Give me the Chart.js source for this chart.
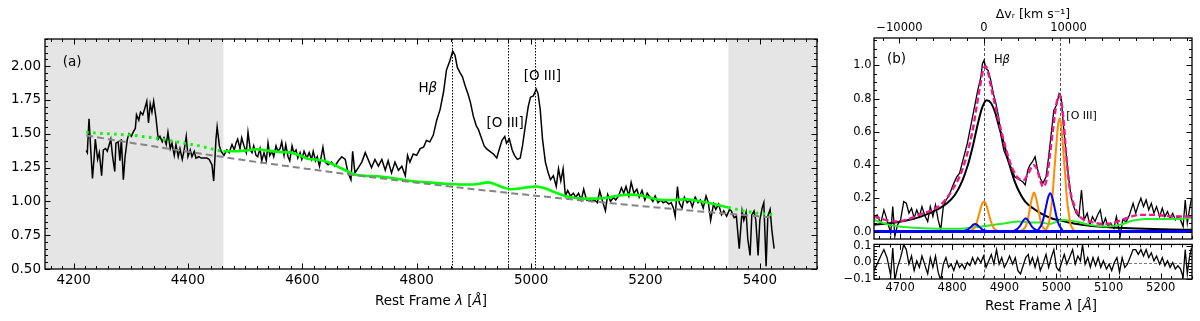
<!DOCTYPE html>
<html><head><meta charset="utf-8">
<script src="https://cdn.jsdelivr.net/npm/chart.js@4.4.0/dist/chart.umd.min.js"></script>
<style>
html,body{margin:0;padding:0;background:#fff;}
#wrap{position:relative;width:1200px;height:321px;overflow:hidden;background:#fff;}
canvas{position:absolute;display:block;}
</style></head><body>
<div id="wrap">
<canvas id="cA" width="830" height="321" style="left:0;top:0"></canvas>
<canvas id="cB" width="370" height="249" style="left:830px;top:0"></canvas>
<canvas id="cC" width="370" height="86" style="left:830px;top:235px"></canvas>
</div>
<script>
// ---------------- Panel (a) data ----------------
const specA_lam = [4222,4224,4226,4227,4230,4233,4236,4238,4242,4245,4249,4252,4256,4259,4263,4265,4268,4272,4274,4278,4281,4283.5,4287,4290,4294,4297,4301,4304,4308,4310,4314,4317,4321,4324,4328,4331,4334,4337,4340,4344,4348,4351,4355,4358,4362,4365,4369,4372,4376,4379,4383,4386,4390,4393,4397,4400,4404,4407,4411,4414,4419,4423,4428,4433,4437,4442,4445,4449,4451,4455,4458,4463,4468,4472,4477,4481,4484,4487,4491,4494,4498,4502,4505,4509,4512,4515,4519,4522,4526,4529,4533,4537,4540,4543,4547,4550,4554,4557,4561,4564,4568,4571,4575,4578,4582,4585,4589,4592,4596,4599,4603,4608,4612,4616,4619,4623,4626,4630,4636,4640,4645,4651,4657,4663,4669,4675,4680,4685,4688,4692,4698,4704,4710,4715,4721,4727,4733,4739,4745,4750,4756,4762,4768,4774,4780,4784,4788,4794,4800,4806,4812,4817,4823,4829,4835,4841,4847,4852,4858,4863,4867,4871,4876,4880,4885,4890,4894,4899,4904,4908,4913,4918,4922,4928,4934,4940,4944,4949,4954,4957,4962,4967,4971,4976,4981,4985,4990,4995,4999,5004,5009,5012,5016,5020,5025,5030,5034,5039,5044,5048,5052,5056,5060,5064,5069,5074,5078,5083,5088,5092,5097,5102,5106,5111,5116,5120,5125,5130,5134,5139,5144,5148,5153,5158,5162,5166,5171,5175,5180,5185,5189,5194,5199,5203,5208,5213,5217,5222,5227,5231,5236,5241,5245,5249,5252,5256,5259,5264,5268,5273,5278,5282,5287,5292,5296,5301,5306,5310,5314,5319,5323,5328,5333,5337,5342,5347,5350,5355,5359,5364,5369,5372,5376,5379,5383,5386,5390,5393,5397,5400,5404,5407,5411,5414,5418,5421,5425];
const specA_flux = [1.376,1.36,1.53,1.61,1.38,1.17,1.33,1.46,1.31,1.36,1.19,1.38,1.39,1.37,1.43,1.46,1.34,1.22,1.43,1.44,1.30,1.46,1.16,1.33,1.46,1.50,1.48,1.51,1.54,1.64,1.60,1.66,1.64,1.68,1.74,1.58,1.72,1.66,1.74,1.62,1.46,1.48,1.44,1.47,1.42,1.51,1.39,1.43,1.34,1.42,1.33,1.39,1.31,1.37,1.48,1.33,1.38,1.33,1.37,1.32,1.33,1.32,1.32,1.32,1.31,1.27,1.15,1.46,1.55,1.41,1.37,1.34,1.38,1.36,1.42,1.38,1.43,1.46,1.39,1.47,1.41,1.36,1.51,1.38,1.36,1.41,1.34,1.33,1.39,1.30,1.36,1.30,1.43,1.34,1.37,1.33,1.41,1.37,1.39,1.44,1.34,1.42,1.33,1.30,1.41,1.36,1.38,1.32,1.36,1.31,1.37,1.32,1.36,1.31,1.37,1.30,1.33,1.26,1.40,1.29,1.27,1.29,1.26,1.30,1.33,1.31,1.21,1.16,1.37,1.21,1.25,1.29,1.36,1.31,1.25,1.31,1.26,1.31,1.23,1.30,1.21,1.29,1.23,1.26,1.19,1.34,1.29,1.35,1.34,1.39,1.40,1.45,1.44,1.49,1.60,1.68,1.81,1.97,2.04,2.11,2.08,1.99,1.95,1.92,1.85,1.79,1.73,1.63,1.56,1.53,1.47,1.41,1.39,1.37,1.35,1.32,1.38,1.45,1.48,1.43,1.46,1.38,1.34,1.31,1.32,1.41,1.56,1.70,1.77,1.78,1.83,1.80,1.68,1.46,1.29,1.21,1.16,1.19,1.11,1.24,1.15,1.24,1.04,1.08,1.04,1.06,1.03,1.06,1.01,1.09,1.01,1.01,1.00,1.01,0.99,1.08,1.00,0.93,1.05,1.00,1.03,1.01,1.04,1.10,1.06,1.11,1.04,1.14,1.06,1.09,1.03,1.08,1.01,1.06,1.03,1.00,1.04,0.99,1.01,0.99,1.00,0.98,0.99,0.95,0.89,1.11,0.99,0.95,1.03,0.99,1.01,0.96,1.03,0.99,1.01,0.95,1.04,0.99,0.86,0.98,0.94,0.98,0.90,0.93,0.89,0.94,0.93,0.88,0.89,0.65,0.93,0.86,0.92,0.72,0.60,0.90,0.93,0.86,0.60,0.86,0.95,0.99,0.52,0.89,0.94,0.79,0.65,0.45];
// green Fe II + continuum model (solid inside fit window)
const feA_lam  = [4462,4480,4500,4520,4540,4560,4580,4595,4610,4630,4645,4660,4675,4690,4705,4730,4760,4790,4820,4850,4880,4900,4915,4925,4935,4950,4965,4980,4995,5010,5025,5040,5055,5070,5090,5110,5130,5150,5170,5190,5210,5230,5250,5270,5290,5310,5330,5345];
const feA_flux = [1.37,1.37,1.375,1.385,1.375,1.365,1.36,1.34,1.315,1.305,1.29,1.26,1.23,1.20,1.19,1.185,1.17,1.15,1.14,1.13,1.125,1.125,1.135,1.14,1.13,1.105,1.09,1.095,1.105,1.11,1.095,1.07,1.045,1.03,1.02,1.02,1.025,1.04,1.05,1.045,1.025,1.01,1.01,1.015,1.005,0.99,0.97,0.955];
// green model extrapolated outside the window (dotted)
const feAL_lam  = [4222,4260,4300,4340,4380,4420,4450,4462];
const feAL_flux = [1.51,1.50,1.49,1.47,1.44,1.41,1.38,1.37];
const feAR_lam  = [5345,5370,5400,5425];
const feAR_flux = [0.955,0.93,0.91,0.90];
// power-law continuum (grey dashed)
const plaw_lam  = [4222,4300,4400,4500,4600,4700,4800,4900,5000,5100,5200,5300,5425];
const plaw_flux = [1.487,1.433,1.367,1.303,1.245,1.189,1.138,1.090,1.045,1.002,0.962,0.924,0.880];
// masked (grey) regions and line markers
const maskRegions = [[4150,4462],[5345,5500]];
const lineMarks = [4861,4959,5007];
const ticksA_x = [4200,4400,4600,4800,5000,5200,5400];
const ticksA_y = [0.50,0.75,1.00,1.25,1.50,1.75,2.00];

// ---------------- Panel (b) data ----------------
const specB_lam = [4650,4656,4663,4669,4675,4682,4686,4690,4695,4701,4707,4712,4717,4722,4727,4732,4737,4742,4747,4753,4758,4763,4768,4773,4778,4783,4788,4793,4798,4803,4809,4814,4819,4824,4829,4834,4839,4844,4849,4855,4858,4861,4865,4869,4874,4879,4884,4889,4894,4899,4904,4909,4914,4920,4925,4930,4935,4940,4945,4949,4954,4959,4964,4969,4974,4980,4985,4990,4995,5000,5005,5009,5013,5018,5023,5028,5033,5038,5043,5048,5053,5059,5064,5069,5074,5079,5084,5089,5094,5099,5104,5110,5115,5120,5122,5127,5134,5140,5147,5152,5157,5162,5167,5172,5177,5182,5187,5192,5198,5203,5208,5213,5218,5223,5228,5233,5238,5243,5247,5251,5255,5259];
const specB_flux = [0.08,0.10,0.05,0.13,0.07,-0.01,0.15,-0.03,0.04,0.07,0.18,0.17,0.11,0.14,0.08,0.13,0.09,0.15,0.10,0.06,0.15,0.09,0.16,0.07,0.01,0.15,0.19,0.21,0.25,0.29,0.33,0.35,0.41,0.47,0.53,0.61,0.69,0.77,0.85,0.93,1.01,1.03,0.98,0.97,0.91,0.83,0.77,0.69,0.57,0.49,0.45,0.41,0.38,0.33,0.32,0.31,0.30,0.28,0.37,0.40,0.42,0.45,0.37,0.32,0.29,0.33,0.45,0.59,0.73,0.76,0.83,0.81,0.65,0.49,0.33,0.21,0.15,0.11,0.09,0.25,0.07,0.11,0.04,0.09,0.06,0.10,0.13,0.04,0.08,0.03,0.05,0.02,0.09,0.01,-0.03,0.07,0.06,0.10,0.17,0.11,0.16,0.20,0.15,0.19,0.13,0.17,0.11,0.15,0.09,0.14,0.09,0.12,0.08,0.11,0.07,0.09,0.07,0.03,0.19,0.05,0.13,0.20];
// broad H-beta (black smooth)
const broad_lam = [4650,4680,4710,4740,4770,4790,4805,4820,4830,4840,4850,4858,4866,4874,4882,4890,4900,4910,4920,4930,4940,4955,4970,4990,5010,5040,5080,5120,5170,5220,5260];
const broad_val = [0.04,0.05,0.065,0.09,0.13,0.17,0.22,0.31,0.40,0.52,0.66,0.75,0.79,0.775,0.72,0.63,0.52,0.40,0.30,0.23,0.18,0.14,0.11,0.08,0.065,0.045,0.03,0.022,0.016,0.012,0.01];
// total model (pink dashed)
const total_lam = [4650,4672,4691,4711,4736,4762,4781,4800,4819,4838,4851,4860,4864,4867,4876,4889,4902,4914,4927,4937,4946,4956,4962,4968,4974,4981,4987,4994,5000,5006,5013,5019,5025,5035,5045,5064,5089,5108,5134,5159,5191,5223,5260];
const total_val = [0.09,0.07,0.06,0.07,0.10,0.13,0.17,0.25,0.37,0.59,0.83,0.98,0.995,0.98,0.85,0.67,0.51,0.39,0.32,0.31,0.35,0.40,0.38,0.32,0.27,0.31,0.45,0.63,0.77,0.82,0.69,0.45,0.27,0.15,0.09,0.06,0.046,0.05,0.08,0.10,0.10,0.09,0.09];
// Fe II template (green)
const feB_lam = [4650,4672,4698,4742,4806,4838,4870,4902,4927,4950,4968,4987,5013,5038,5064,5096,5121,5147,5172,5204,5236,5260];
const feB_val = [0.07,0.046,0.03,0.02,0.016,0.024,0.036,0.05,0.06,0.055,0.055,0.046,0.07,0.06,0.04,0.03,0.04,0.066,0.076,0.076,0.076,0.085];
// narrow components (orange)
const nHb_lam  = [4836,4843,4847.5,4852,4856.5,4861,4865.5,4870,4874.5,4879,4886];
const nHb_val  = [0.004,0.024,0.058,0.109,0.159,0.18,0.159,0.109,0.058,0.024,0.004];
const n4959_lam = [4933,4941,4945,4949,4953,4957,4961,4965,4969,4973,4981];
const n4959_val = [0.005,0.03,0.07,0.14,0.20,0.235,0.20,0.14,0.07,0.03,0.005];
const n5007_lam = [4979,4985,4988,4992,4996,5000,5003,5006,5009,5012,5016,5020,5024,5027,5033];
const n5007_val = [0.008,0.045,0.10,0.20,0.37,0.53,0.64,0.68,0.64,0.53,0.37,0.20,0.10,0.045,0.008];
// outflow components (blue)
const oHb_lam  = [4820,4830,4836,4840,4844,4848,4852,4858,4868];
const oHb_val  = [0.002,0.012,0.028,0.040,0.045,0.040,0.028,0.012,0.002];
const o4959_lam = [4917,4925,4931,4936,4941,4946,4951,4957,4965];
const o4959_val = [0.002,0.016,0.038,0.065,0.08,0.065,0.038,0.016,0.002];
const o5007_lam = [4964,4972,4976,4980,4984,4988,4992,4996,5000,5004,5012];
const o5007_val = [0.005,0.046,0.09,0.15,0.205,0.23,0.205,0.15,0.09,0.046,0.005];
const zero_lam = [4650,5260];
const zero_val = [0,0];
// residuals
const resid_lam = [4650,4656,4663,4669,4675,4682,4686,4690,4695,4701,4707,4712,4717,4722,4727,4732,4737,4742,4747,4753,4758,4763,4768,4773,4778,4783,4788,4793,4798,4803,4809,4814,4819,4824,4829,4834,4839,4844,4849,4855,4860,4865,4870,4875,4880,4885,4890,4895,4900,4905,4910,4916,4921,4926,4931,4936,4941,4946,4949,4954,4959,4964,4969,4974,4980,4985,4990,4995,5000,5005,5010,5015,5020,5025,5031,5036,5041,5046,5050,5055,5060,5065,5070,5075,5080,5085,5090,5096,5101,5106,5111,5116,5121,5126,5131,5136,5141,5147,5152,5157,5162,5167,5172,5177,5182,5187,5192,5198,5203,5208,5213,5218,5223,5228,5233,5238,5243,5247,5251,5255,5259];
const resid_val = [-0.05,-0.01,0.04,0.08,0.03,-0.08,0.09,-0.11,-0.03,0.03,0.11,0.08,-0.01,0.04,-0.05,0.01,-0.03,0.04,-0.01,-0.07,0.03,-0.03,0.04,-0.06,-0.11,-0.01,0.03,-0.03,-0.01,-0.05,0.01,-0.03,-0.01,-0.04,0.00,-0.02,0.03,-0.01,0.03,0.00,0.04,-0.03,0.01,0.05,-0.01,0.08,-0.01,0.03,-0.03,0.00,0.04,-0.01,0.03,-0.05,-0.07,-0.02,0.03,0.05,-0.01,0.03,-0.03,0.03,-0.05,-0.01,0.05,-0.03,0.03,0.08,-0.03,-0.05,0.00,0.05,-0.01,0.03,0.08,-0.01,0.04,0.01,0.11,-0.01,0.03,-0.03,0.03,-0.02,0.03,-0.03,0.01,-0.04,-0.01,-0.05,0.00,0.03,-0.06,0.03,-0.03,-0.01,0.03,0.08,0.08,0.05,0.08,0.04,0.08,0.03,0.06,0.01,0.04,-0.01,0.03,-0.02,0.01,-0.03,0.00,-0.04,-0.02,-0.04,-0.09,0.08,-0.07,0.03,0.09];
const ticksB_x = [4700,4800,4900,5000,5100,5200];
const ticksB_y = [0.0,0.2,0.4,0.6,0.8,1.0];
const ticksB_v = [-10000,0,10000];
const ticksC_y = [-0.1,0.0,0.1];
const markB = [4861,5007];
const xTitle = [{t: 'Rest Frame '}, {t: '\u03bb', i: true}, {t: ' ['}, {t: '\u00c5', i: true}, {t: ']'}];

// ---------------- helpers ----------------
const C_KMS = 299792.458, LAM0 = 4861;
const FONT = "'DejaVu Sans', 'Liberation Sans', sans-serif";
Chart.defaults.font.family = FONT;
Chart.defaults.color = '#000';
const pts = (xs, ys) => xs.map((x, i) => ({x: x, y: ys[i]}));
const steps = (a, b, s) => { const r = []; for (let v = a; v <= b + 1e-9; v += s) r.push(+v.toFixed(6)); return r; };
const fmtMinus = (s) => s.replace('-', '\u2212');

function line(data, color, width, extra) {
  return Object.assign({data: data, borderColor: color, backgroundColor: color, borderWidth: width,
    pointRadius: 0, pointHoverRadius: 0, fill: false, tension: 0, clip: 0}, extra || {});
}

function richWidth(ctx, segs, size) {
  let w = 0;
  segs.forEach(s => { ctx.font = (s.i ? 'italic ' : '') + size + 'px ' + FONT; w += ctx.measureText(s.t).width; });
  return w;
}
function drawRich(ctx, x, y, segs, size, center) {
  let cx = center ? x - richWidth(ctx, segs, size) / 2 : x;
  ctx.textBaseline = 'middle'; ctx.textAlign = 'left'; ctx.fillStyle = '#000';
  segs.forEach(s => {
    ctx.font = (s.i ? 'italic ' : '') + size + 'px ' + FONT;
    ctx.fillText(s.t, cx, y);
    cx += ctx.measureText(s.t).width;
  });
}

function makeDeco(cfg) {
  return {
    id: 'deco',
    beforeDatasetsDraw(chart) {
      const {ctx, chartArea: a, scales} = chart;
      const xs = scales.x, ys = scales.y;
      ctx.save();
      ctx.beginPath(); ctx.rect(a.left, a.top, a.right - a.left, a.bottom - a.top); ctx.clip();
      (cfg.shades || []).forEach(s => {
        const x0 = xs.getPixelForValue(s[0]), x1 = xs.getPixelForValue(s[1]);
        ctx.fillStyle = '#e5e5e5';
        ctx.fillRect(x0, a.top, x1 - x0, a.bottom - a.top);
      });
      (cfg.vlines || []).forEach(v => {
        const px = Math.round(xs.getPixelForValue(v.x)) + 0.5;
        ctx.strokeStyle = v.color; ctx.lineWidth = v.w; ctx.setLineDash(v.dash);
        ctx.beginPath(); ctx.moveTo(px, a.top); ctx.lineTo(px, a.bottom); ctx.stroke();
      });
      (cfg.hlines || []).forEach(v => {
        const py = Math.round(ys.getPixelForValue(v.y)) + 0.5;
        ctx.strokeStyle = v.color; ctx.lineWidth = v.w; ctx.setLineDash(v.dash);
        ctx.beginPath(); ctx.moveTo(a.left, py); ctx.lineTo(a.right, py); ctx.stroke();
      });
      ctx.restore();
    },
    afterDatasetsDraw(chart) {
      const {ctx, chartArea: a, scales} = chart;
      const xs = scales.x, ys = scales.y;
      ctx.save();
      ctx.setLineDash([]);
      ctx.strokeStyle = '#000'; ctx.lineWidth = 1;
      const t = cfg.ticks;
      const vt = (sc, vals, len, top, bottom) => vals.forEach(v => {
        if (v < sc.min - 1e-9 || v > sc.max + 1e-9) return;
        const px = Math.round(sc.getPixelForValue(v)) + 0.5;
        ctx.beginPath();
        if (bottom) { ctx.moveTo(px, a.bottom); ctx.lineTo(px, a.bottom - len); }
        if (top) { ctx.moveTo(px, a.top); ctx.lineTo(px, a.top + len); }
        ctx.stroke();
      });
      const ht = (sc, vals, len) => vals.forEach(v => {
        if (v < sc.min - 1e-9 || v > sc.max + 1e-9) return;
        const py = Math.round(sc.getPixelForValue(v)) + 0.5;
        ctx.beginPath();
        ctx.moveTo(a.left, py); ctx.lineTo(a.left + len, py);
        ctx.moveTo(a.right, py); ctx.lineTo(a.right - len, py);
        ctx.stroke();
      });
      vt(xs, t.xMajor, 5.5, t.xTop, true);
      vt(xs, t.xMinor, 3, t.xTop, true);
      if (t.topScale) {
        const s2 = scales[t.topScale];
        vt(s2, t.topMajor, 5.5, true, false);
        vt(s2, t.topMinor, 3, true, false);
      }
      ht(ys, t.yMajor, 5.5);
      ht(ys, t.yMinor, 3);
      ctx.lineWidth = 1.3;
      ctx.strokeRect(a.left, a.top, a.right - a.left, a.bottom - a.top);
      (cfg.texts || []).forEach(tx => {
        drawRich(ctx, xs.getPixelForValue(tx.x), ys.getPixelForValue(tx.y), tx.segs, tx.size, false);
      });
      if (cfg.xtitle) {
        const cx = (a.left + a.right) / 2 + cfg.xtitle.dx;
        drawRich(ctx, cx, chart.height - cfg.xtitle.fromBottom, cfg.xtitle.segs, cfg.xtitle.size, true);
      }
      ctx.restore();
    }
  };
}

const noGrid = {display: false, drawTicks: false};

// ---------------- Chart (a) ----------------
new Chart(document.getElementById('cA'), {
  type: 'line',
  data: {datasets: [
    line(pts(plaw_lam, plaw_flux), '#858585', 2, {borderDash: [7, 4], order: 1}),
    line(pts(feA_lam, feA_flux), '#00ff00', 2.6, {order: 2, tension: 0.4, cubicInterpolationMode: 'monotone'}),
    line(pts(feAL_lam, feAL_flux), '#00ff00', 3, {order: 2, borderDash: [2.5, 4.5]}),
    line(pts(feAR_lam, feAR_flux), '#00ff00', 3, {order: 2, borderDash: [2.5, 4.5]}),
    line(pts(specA_lam, specA_flux), '#000000', 1.5, {order: 3})
  ]},
  options: {
    responsive: false, animation: false, devicePixelRatio: 1,
    layout: {padding: {top: 39, right: 13, left: 0, bottom: 0}},
    plugins: {legend: {display: false}, tooltip: {enabled: false}},
    events: [],
    scales: {
      x: {type: 'linear', min: 4150, max: 5500, grid: noGrid, border: {display: false},
        afterFit: s => { s.height = 52; },
        afterBuildTicks: s => { s.ticks = ticksA_x.map(v => ({value: v})); },
        ticks: {font: {size: 13.5}, padding: 3.5, maxRotation: 0, autoSkip: false, callback: v => String(v)}},
      y: {type: 'linear', min: 0.5, max: 2.2, grid: noGrid, border: {display: false},
        afterFit: s => { s.width = 45; },
        afterBuildTicks: s => { s.ticks = ticksA_y.map(v => ({value: v})); },
        ticks: {font: {size: 13.5}, padding: 4, autoSkip: false, callback: v => v.toFixed(2)}}
    }
  },
  plugins: [makeDeco({
    shades: maskRegions,
    vlines: lineMarks.map(x => ({x: x, color: '#000', w: 1, dash: [1.5, 1.5]})),
    ticks: {xMajor: ticksA_x, xMinor: steps(4160, 5500, 20), xTop: true,
            yMajor: ticksA_y, yMinor: steps(0.5, 2.2, 0.05)},
    texts: [
      {x: 4181, y: 2.03, segs: [{t: '(a)'}], size: 13.5},
      {x: 4803, y: 1.834, segs: [{t: 'H'}, {t: '\u03b2', i: true}], size: 13.5},
      {x: 4922, y: 1.575, segs: [{t: '[O III]'}], size: 13.5},
      {x: 4987, y: 1.92, segs: [{t: '[O III]'}], size: 13.5}
    ],
    xtitle: {segs: xTitle, size: 13.5, dx: 0, fromBottom: 19.5}
  })]
});

// ---------------- Chart (b) upper ----------------
const vMin = C_KMS * (4650 / LAM0 - 1), vMax = C_KMS * (5260 / LAM0 - 1);
const smooth = {tension: 0.4, cubicInterpolationMode: 'monotone'};
new Chart(document.getElementById('cB'), {
  type: 'line',
  data: {datasets: [
    line(pts(total_lam, total_val), '#f0168c', 2.4, Object.assign({borderDash: [6, 3], order: 1}, smooth)),
    line(pts(zero_lam, zero_val), '#0000ff', 3, {order: 2}),
    line(pts(oHb_lam, oHb_val), '#0000ff', 2, Object.assign({order: 3}, smooth)),
    line(pts(o4959_lam, o4959_val), '#0000ff', 2, Object.assign({order: 3}, smooth)),
    line(pts(o5007_lam, o5007_val), '#0000ff', 2, Object.assign({order: 3}, smooth)),
    line(pts(nHb_lam, nHb_val), '#ff8c00', 2, Object.assign({order: 4}, smooth)),
    line(pts(n4959_lam, n4959_val), '#ff8c00', 2, Object.assign({order: 4}, smooth)),
    line(pts(n5007_lam, n5007_val), '#ff8c00', 2, Object.assign({order: 4}, smooth)),
    line(pts(feB_lam, feB_val), '#22ee22', 2, Object.assign({order: 5}, smooth)),
    line(pts(broad_lam, broad_val), '#000000', 2, Object.assign({order: 6}, smooth)),
    line(pts(specB_lam, specB_flux), '#000000', 1.3, {order: 7})
  ]},
  options: {
    responsive: false, animation: false, devicePixelRatio: 1,
    layout: {padding: {top: 0, right: 8, left: 0, bottom: 0}},
    plugins: {legend: {display: false}, tooltip: {enabled: false}},
    events: [],
    scales: {
      x: {type: 'linear', min: 4650, max: 5260, grid: noGrid, border: {display: false},
        ticks: {display: false}, afterFit: s => { s.height = 10; }},
      x2: {type: 'linear', position: 'top', min: vMin, max: vMax, grid: noGrid, border: {display: false},
        afterFit: s => { s.height = 38; },
        afterBuildTicks: s => { s.ticks = ticksB_v.map(v => ({value: v})); },
        ticks: {font: {size: 11.5}, padding: 2.8, maxRotation: 0, autoSkip: false, callback: v => fmtMinus(String(v))},
        title: {display: true, text: '\u0394v\u1d63 [km s\u207b\u00b9]', font: {size: 12.5}, padding: {top: 7.3, bottom: 0}}},
      y: {type: 'linear', min: -0.045, max: 1.165, grid: noGrid, border: {display: false},
        afterFit: s => { s.width = 44; },
        afterBuildTicks: s => { s.ticks = ticksB_y.map(v => ({value: v})); },
        ticks: {font: {size: 11.5}, padding: 2.5, autoSkip: false, callback: v => v.toFixed(1)}}
    }
  },
  plugins: [makeDeco({
    vlines: markB.map(x => ({x: x, color: '#555', w: 1, dash: [3, 2]})),
    ticks: {xMajor: ticksB_x, xMinor: steps(4660, 5260, 20), xTop: false,
            topScale: 'x2', topMajor: ticksB_v, topMinor: steps(-12000, 24000, 2000),
            yMajor: ticksB_y, yMinor: steps(-0.05, 1.2, 0.05)},
    texts: [
      {x: 4675, y: 1.034, segs: [{t: '(b)'}], size: 13.5},
      {x: 4880, y: 1.034, segs: [{t: 'H'}, {t: '\u03b2', i: true}], size: 11.5},
      {x: 5019, y: 0.693, segs: [{t: '[O III]'}], size: 11}
    ]
  })]
});

// ---------------- Chart (b) residuals ----------------
new Chart(document.getElementById('cC'), {
  type: 'line',
  data: {datasets: [
    line(pts(resid_lam, resid_val), '#000000', 1.3, {order: 1})
  ]},
  options: {
    responsive: false, animation: false, devicePixelRatio: 1,
    layout: {padding: {top: 0, right: 8, left: 0, bottom: 0}},
    plugins: {legend: {display: false}, tooltip: {enabled: false}},
    events: [],
    scales: {
      x: {type: 'linear', min: 4650, max: 5260, grid: noGrid, border: {display: false},
        afterFit: s => { s.height = 42; },
        afterBuildTicks: s => { s.ticks = ticksB_x.map(v => ({value: v})); },
        ticks: {font: {size: 11.5}, padding: 2.5, maxRotation: 0, autoSkip: false, callback: v => String(v)}},
      y: {type: 'linear', min: -0.102, max: 0.112, grid: noGrid, border: {display: false},
        afterFit: s => { s.width = 44; },
        afterBuildTicks: s => { s.ticks = ticksC_y.map(v => ({value: v})); },
        ticks: {font: {size: 11.5}, padding: 2.5, autoSkip: false, callback: v => fmtMinus(v.toFixed(1))}}
    }
  },
  plugins: [makeDeco({
    vlines: markB.map(x => ({x: x, color: '#555', w: 1, dash: [3, 2]})),
    hlines: [{y: 0, color: '#777', w: 1, dash: [3, 2]}],
    ticks: {xMajor: ticksB_x, xMinor: steps(4660, 5260, 20), xTop: true,
            yMajor: ticksC_y, yMinor: steps(-0.1, 0.112, 0.02)},
    xtitle: {segs: xTitle, size: 13.5, dx: 8, fromBottom: 15}
  })]
});
</script>
</body></html>
